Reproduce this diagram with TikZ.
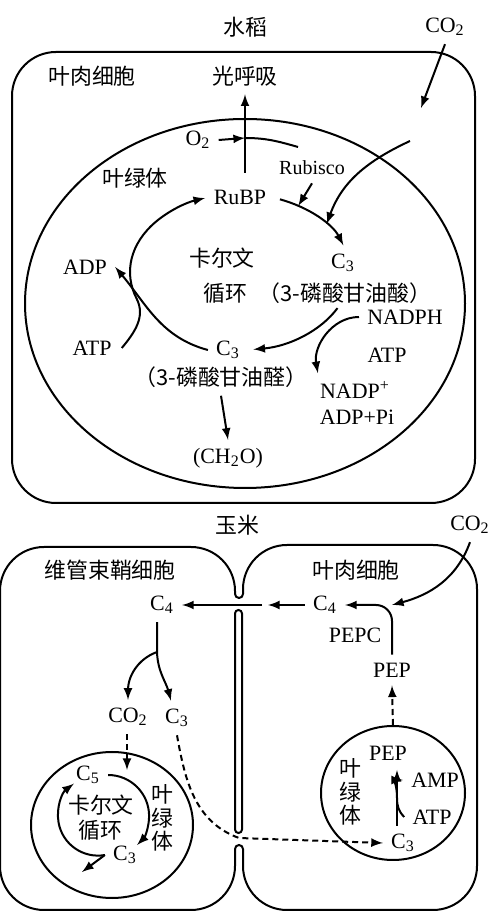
\documentclass[tikz,border=0pt,11pt]{standalone}
\usepackage{fontspec}
\setmainfont{Liberation Serif}
\newfontfamily\cjk{Noto Sans CJK SC}
\usetikzlibrary{shapes.geometric, arrows}

\begin{document}
\begin{tikzpicture}[x=0.5pt, y=0.5pt, line width=1pt]
		\tikzstyle{arrow} = [->,>=latex]
		\tikzstyle{dasharrow} = [->,>=latex, dash pattern=on 3pt off 2pt]
		\tikzstyle{zh} = [font=\cjk]
		\tikzstyle{vzh} = [font=\cjk, align=center, inner sep=0pt]
		\tikzstyle{organelle} = [ellipse, draw, inner sep=0pt]
		\tikzstyle{membrane} = [rounded corners=22pt]
		
		\useasboundingbox (0,0) rectangle (493,915);
		
		% Rice: cell and chloroplast
		\node (rice) [zh] at (245,888) {水稻};
		\node (co2top) at (445,888) {CO\textsubscript{2}};
		\draw [membrane] (12,412) rectangle (475,863);
		\node (meso) [zh] at (92,839) {叶肉细胞};
		\node (chloro) [organelle, minimum width=220pt, minimum height=184.5pt] at (245,611.5) {};
		\node (chlabel) [zh] at (135,737) {叶绿体};
		\node (pr) [zh] at (245,839) {光呼吸};
		\node (o2) at (198,775) {O\textsubscript{2}};
		\node (rubp) at (240,718) {RuBP};
		\node (rubisco) [font=\small] at (312,747) {Rubisco};
		\node (calvin) [zh] at (222,657) {卡尔文};
		\node (cycle) [zh] at (225,622) {循环};
		\node (c3up) at (343,652) {C\textsubscript{3}};
		\node (pga) [zh, below of=c3up, node distance=15pt, xshift=1pt] {（3-磷酸甘油酸）};
		\node (c3low) at (228,565) {C\textsubscript{3}};
		\node (gal) [zh, below of=c3low, node distance=13.5pt, xshift=-3.5pt] {（3-磷酸甘油醛）};
		\node (ch2o) at (228,457) {(CH\textsubscript{2}O)};
		\node (adp) at (85,648) {ADP};
		\node (atpl) at (92,567) {ATP};
		\node (nadph) at (405,598) {NADPH};
		\node (atpr) at (387,560) {ATP};
		\node (nadpp) at (355,525) {NADP\textsuperscript{+}};
		\node (adppi) at (357,498) {ADP+Pi};
		
		\coordinate (ring) at (240,643);
		\coordinate (co2in) at (421,807);
		\coordinate (co2start) at (410,774);
		\coordinate (cross) at (245,777);
		\coordinate (prbot) at (245,742);
		\coordinate (rubend) at (298,768);
		
		% Arrows
		\draw [arrow] (co2top.south) -- (co2in);
		\draw [arrow] (co2start) to[out=205,in=70] ([shift={(38:55pt and 39pt)}]ring);
		\draw [arrow] (o2.east) -- (cross);
		\draw (cross) to[out=0,in=164] (rubend);
		\draw [arrow] (prbot) -- (pr.south);
		\draw [arrow] (rubisco.south) -- ([shift={(58:55pt and 39pt)}]ring);
		\draw [arrow] ([shift={(68.7:55pt and 39pt)}]ring) arc[start angle=68.7, end angle=20, x radius=55pt, y radius=39pt];
		\draw [arrow] ([shift={(-27.6:55pt and 39pt)}]ring) arc[start angle=-27.6, end angle=-83, x radius=55pt, y radius=39pt];
		\draw [arrow] ([xshift=1pt]atpl.east) to[out=50,in=-63] ([shift={(200:55pt and 39pt)}]ring) arc[start angle=200, end angle=108.5, x radius=55pt, y radius=39pt];
		\draw [arrow] (c3low.west) to[out=165,in=-50] (adp.east);
		\draw [arrow] (nadph.west) to[out=180,in=100] ([xshift=3pt]nadpp.north west);
		\draw [arrow] (gal.south) -- (ch2o.north);
		
		% Maize: two cells
		\node (corn) [zh] at (237,390) {玉米};
		\node (co2r) at (470,390) {CO\textsubscript{2}};
		\draw [membrane] (235,66) -- (235,5) -- (0,5) -- (0,368) -- (235,368) -- (235,321);
		\draw [membrane] (243,321) -- (243,370) -- (477,370) -- (477,5) -- (243,5) -- (243,66);
		\draw (235,321) arc[start angle=180, end angle=360, radius=2pt];
		\draw (243,66) arc[start angle=0, end angle=180, radius=2pt];
		\draw [rounded corners=1.75pt] (235,82) rectangle (242,305);
		\node (bs) [zh] at (110,345) {维管束鞘细胞};
		\node (meso2) [zh] at (356,345) {叶肉细胞};
		
		% Mesophyll cell nodes
		\node (c4r) at (325,310) {C\textsubscript{4}};
		\node (pepc) at (355,280) {PEPC};
		\node (pep) at (392,245) {PEP};
		\node (chlr) [organelle, minimum width=72pt, minimum height=67pt] at (393,122) {};
		\node (pep2) at (388,162) {PEP};
		\node (chlrlabel) [vzh] at (350,123) {叶\\[-2pt]绿\\[-2pt]体};
		\node (amp) at (435,135) {AMP};
		\node (atpr2) at (432,98) {ATP};
		\node (c3r) at (403,72) {C\textsubscript{3}};
		
		% Bundle sheath cell nodes
		\node (c4l) at (162,310) {C\textsubscript{4}};
		\node (co2l) at (128,198) {CO\textsubscript{2}};
		\node (c3l) at (177,197) {C\textsubscript{3}};
		\node (chll) [organelle, minimum width=81pt, minimum height=73pt] at (112,90) {};
		\node (c5) at (88,140) {C\textsubscript{5}};
		\node (calvin2) [zh] at (101,110) {卡尔文};
		\node (cycle2) [zh] at (100,85) {循环};
		\node (c3l2) at (125,60) {C\textsubscript{3}};
		\node (chllabel) [vzh] at (162,97) {叶\\[-2pt]绿\\[-2pt]体};
		
		\coordinate (gapr) at (268,310);
		\coordinate (gapl) at (262,310);
		\coordinate (pepcorner) at (392,310);
		\coordinate (pepin) at (397,145);
		\coordinate (bend) at (397,117);
		\coordinate (gapm) at (239,77);
		\coordinate (split) at (157,263);
		\coordinate (cin) at (127,145);
		\coordinate (sugar) at (82,43);
		
		% Arrows
		\draw [arrow] (c4r.west) -- (gapr);
		\draw [arrow] (gapl) -- (c4l.east);
		\draw [arrow, rounded corners=8pt] (pep.north) -- (pepcorner) -- (c4r.east);
		\draw [arrow] (co2r.south) to[out=250,in=15] (pepcorner);
		\draw [dasharrow] (chlr.north) -- (pep.south);
		\draw [arrow] (c3r.north -| pepin) -- (pepin);
		\draw [arrow] (atpr2.west) to[out=135,in=-90] (bend) to[out=90,in=180] (amp.west);
		\draw [dasharrow] (c3l.south) to[out=-80,in=160] (gapm) -- (c3r.west);
		\draw [arrow] (c4l.south -| split) -- (split) to[out=-88,in=105] ([xshift=-3pt]c3l.north);
		\draw [arrow] (split) to[out=200,in=90] (co2l.north);
		\draw [dasharrow] (co2l.south -| cin) -- (cin);
		\draw [arrow] (c5.east) arc[start angle=90, end angle=-45, radius=20.5pt];
		\draw [arrow] (c3l2.west) arc[start angle=-80, end angle=-233, radius=20pt];
		\draw [arrow] (c3l2.west) -- (sugar);
\end{tikzpicture}
\end{document}
